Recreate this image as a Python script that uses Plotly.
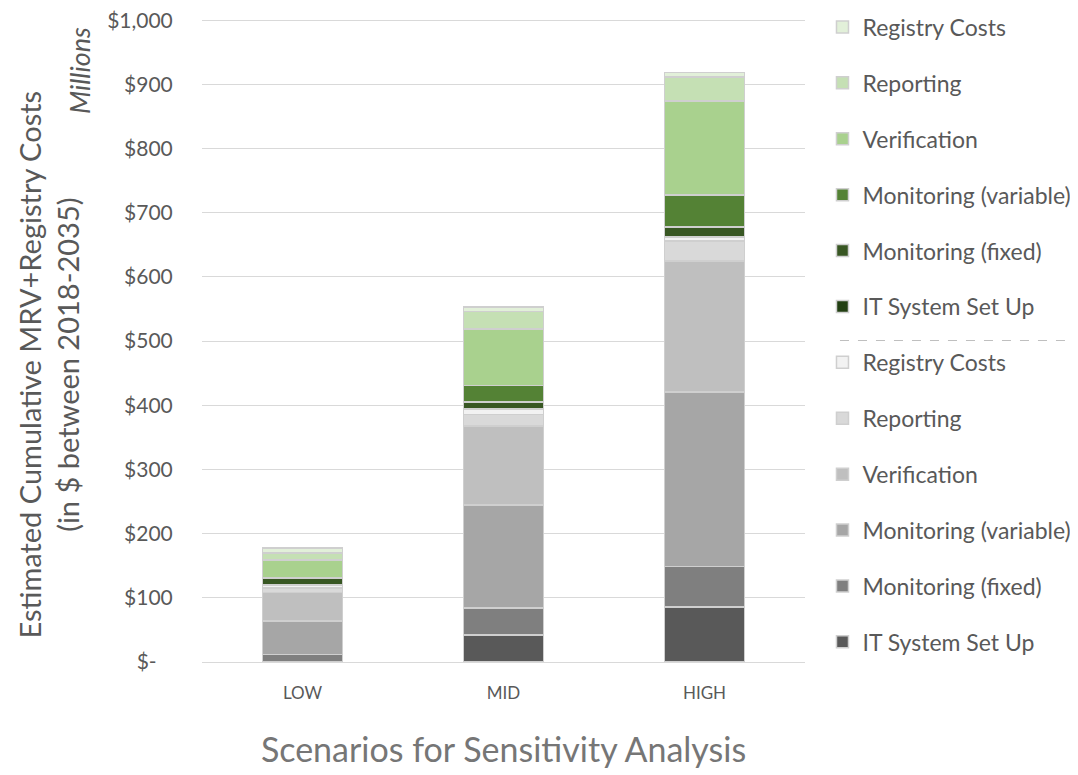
import plotly.graph_objects as go

categories = ["LOW", "MID", "HIGH"]
series_names = ["IT System Set Up", "Monitoring (fixed)", "Monitoring (variable)",
                "Verification", "Reporting", "Registry Costs"]

# lower (gray) stack, bottom to top
gray_it = [1, 42, 86]
gray_mon_fixed = [11, 42, 63]
gray_mon_var = [52, 161, 272]
gray_verification = [44, 123, 204]
gray_reporting = [7, 18, 31]
gray_registry = [4, 8, 6]

# upper (green) stack, bottom to top
green_it = [1, 1, 1]
green_mon_fixed = [10, 10, 15]
green_mon_var = [2, 26, 50]
green_verification = [27, 88, 146]
green_reporting = [11, 27, 38]
green_registry = [8, 7, 7]

tick_vals = [0, 100, 200, 300, 400, 500, 600, 700, 800, 900, 1000]
tick_text = ["$-\u00a0\u00a0\u00a0", "$100", "$200", "$300", "$400", "$500",
             "$600", "$700", "$800", "$900", "$1,000"]

gray_vals = [gray_it, gray_mon_fixed, gray_mon_var, gray_verification, gray_reporting, gray_registry]
green_vals = [green_it, green_mon_fixed, green_mon_var, green_verification, green_reporting, green_registry]
gray_colors = ["#595959", "#7f7f7f", "#a6a6a6", "#bfbfbf", "#d9d9d9", "#f2f2f2"]
green_colors = ["#223f12", "#385723", "#548235", "#a9d18e", "#c5e0b4", "#e2f0d9"]

FONT = "Lato"
TXT = "#595959"

fig = go.Figure()
i = 0
for name, vals, col in zip(series_names, gray_vals, gray_colors):
    fig.add_trace(go.Bar(x=categories, y=vals, name=name, marker_color=col,
                         marker_line=dict(color="#cfcfcf", width=1.5),
                         legendgroup="g%02d" % i, legendrank=1000 - i))
    i += 1
for name, vals, col in zip(series_names, green_vals, green_colors):
    fig.add_trace(go.Bar(x=categories, y=vals, name=name, marker_color=col,
                         marker_line=dict(color="#cfcfcf", width=1.5),
                         legendgroup="g%02d" % i, legendrank=1000 - i))
    i += 1

fig.update_layout(
    width=1070, height=767,
    barmode="stack", bargap=0.6,
    plot_bgcolor="white", paper_bgcolor="white",
    margin=dict(l=194, r=273, t=11, b=113, autoexpand=False),
    font=dict(family=FONT, color=TXT),
    showlegend=True,
    legend=dict(x=1.029, xanchor="left", y=1.021, yanchor="top",
                traceorder="grouped", tracegroupgap=23, maxheight=1.0,
                font=dict(size=23, color=TXT), bgcolor="rgba(0,0,0,0)"),
    xaxis=dict(showgrid=False, tickfont=dict(size=17, color=TXT),
               ticks="outside", ticklen=16, tickcolor="rgba(0,0,0,0)",
               title=dict(text="Scenarios for Sensitivity Analysis",
                          font=dict(size=34, color="#767676"), standoff=35)),
    yaxis=dict(range=[0, 1002], tickvals=tick_vals, ticktext=tick_text,
               showgrid=True, gridcolor="#d9d9d9", gridwidth=1.3,
               zeroline=True, zerolinecolor="#d9d9d9", zerolinewidth=1.3,
               tickfont=dict(size=21, color=TXT), ticklabeloverflow="allow",
               ticks="outside", ticklen=24, tickcolor="rgba(0,0,0,0)"),
)

fig.add_annotation(text="Estimated Cumulative MRV+Registry Costs<br>(in $ between 2018-2035)",
                   xref="paper", yref="paper", x=-0.255, y=0.463, textangle=-90,
                   showarrow=False, font=dict(size=29, color=TXT), xanchor="center", yanchor="middle")
fig.add_annotation(text="<i>Millions</i>", xref="paper", yref="paper", x=-0.204, y=0.9206,
                   textangle=-90, showarrow=False, font=dict(size=27, color=TXT),
                   xanchor="center", yanchor="middle")
fig.add_shape(type="line", xref="paper", yref="paper", x0=1.058, x1=1.453, y0=0.5, y1=0.5,
              line=dict(color="#bfbfbf", width=1.2, dash="dash"))

fig.write_html("out.html")
